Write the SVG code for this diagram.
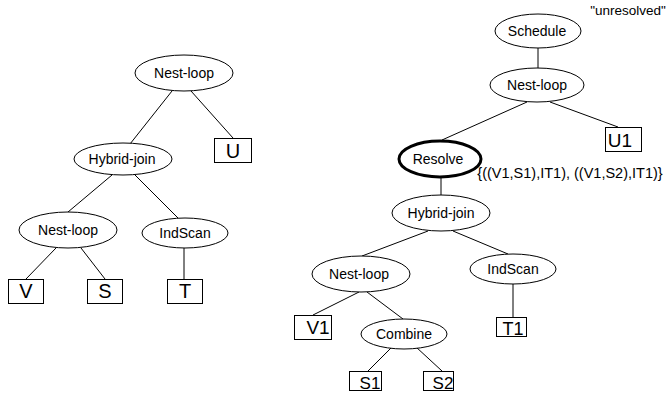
<svg xmlns="http://www.w3.org/2000/svg" width="667" height="397" viewBox="0 0 667 397">
<style>
.op{fill:#fff;stroke:#000;stroke-width:1}
.leaf{fill:#fff;stroke:#000;stroke-width:1}
.t{font-family:"Liberation Sans",Arial,sans-serif;font-size:14px;text-anchor:middle;fill:#000}
.lt{font-family:"Liberation Sans",Arial,sans-serif;font-size:20px;text-anchor:middle;fill:#000}
.rt{font-family:"Liberation Sans",Arial,sans-serif;font-size:19px;text-anchor:middle;fill:#000}
.c line{stroke:#000;stroke-width:1}
</style>
<rect width="667" height="397" fill="#fff"/>
<g class="c" id="connectors">
<line x1="172" y1="91" x2="130" y2="144"/>
<line x1="191" y1="91" x2="233" y2="138"/>
<line x1="112" y1="175" x2="68" y2="212"/>
<line x1="135" y1="175" x2="178" y2="218"/>
<line x1="56" y1="248" x2="26" y2="279"/>
<line x1="81" y1="248" x2="105" y2="279"/>
<line x1="184" y1="248" x2="184" y2="279"/>
<line x1="538" y1="48" x2="538" y2="68"/>
<line x1="527" y1="102" x2="442" y2="140"/>
<line x1="550" y1="102" x2="618" y2="127"/>
<line x1="441" y1="178" x2="441" y2="195"/>
<line x1="428" y1="231" x2="362" y2="256"/>
<line x1="453" y1="231" x2="508" y2="254"/>
<line x1="359" y1="292" x2="313" y2="315"/>
<line x1="367" y1="292" x2="403" y2="319"/>
<line x1="513" y1="283" x2="513" y2="317"/>
<line x1="392" y1="347" x2="368" y2="371"/>
<line x1="416" y1="347" x2="442" y2="371"/>
</g>
<g id="L_nestloop1"><ellipse class="op" cx="184" cy="73" rx="49" ry="18"/><text class="t" x="184" y="78">Nest-loop</text></g>
<g id="L_U"><rect class="leaf" x="214.5" y="138.5" width="37" height="24"/><text class="lt" x="233" y="158">U</text></g>
<g id="L_hybrid"><ellipse class="op" cx="123" cy="159" rx="49" ry="16"/><text class="t" x="122" y="164">Hybrid-join</text></g>
<g id="L_nestloop2"><ellipse class="op" cx="68" cy="230" rx="49" ry="18"/><text class="t" x="68" y="235">Nest-loop</text></g>
<g id="L_indscan"><ellipse class="op" cx="185" cy="233" rx="43" ry="15"/><text class="t" x="185" y="238">IndScan</text></g>
<g id="L_V"><rect class="leaf" x="8.5" y="279.5" width="35" height="24"/><text class="lt" x="26" y="298">V</text></g>
<g id="L_S"><rect class="leaf" x="87.5" y="279.5" width="35" height="24"/><text class="lt" x="105" y="298">S</text></g>
<g id="L_T"><rect class="leaf" x="167.5" y="279.5" width="35" height="24"/><text class="lt" x="185" y="298">T</text></g>
<g id="unresolved_label"><text class="t" x="628" y="15" style="font-size:13.5px">"unresolved"</text></g>
<g id="R_schedule"><ellipse class="op" cx="538" cy="31" rx="43" ry="17"/><text class="t" x="537" y="36">Schedule</text></g>
<g id="R_nestloop1"><ellipse class="op" cx="537" cy="85" rx="47" ry="17"/><text class="t" x="537" y="90">Nest-loop</text></g>
<g id="R_U1"><rect class="leaf" x="605.5" y="127.5" width="36" height="24"/><text class="rt" x="620" y="147">U1</text></g>
<g id="R_resolve"><ellipse class="op" cx="440" cy="159" rx="41" ry="18" style="stroke-width:3"/><text class="t" x="438" y="164">Resolve</text></g>
<g id="resolve_label"><text class="t" x="570" y="178" style="font-size:14.5px">{((V1,S1),IT1), ((V1,S2),IT1)}</text></g>
<g id="R_hybrid"><ellipse class="op" cx="441" cy="213" rx="49" ry="18"/><text class="t" x="441" y="218">Hybrid-join</text></g>
<g id="R_nestloop2"><ellipse class="op" cx="361" cy="274" rx="49" ry="18"/><text class="t" x="359" y="279">Nest-loop</text></g>
<g id="R_indscan"><ellipse class="op" cx="513" cy="269" rx="43" ry="15"/><text class="t" x="513" y="274">IndScan</text></g>
<g id="R_V1"><rect class="leaf" x="294.5" y="315.5" width="37" height="24"/><text class="rt" x="318" y="334">V1</text></g>
<g id="R_combine"><ellipse class="op" cx="404" cy="334" rx="43" ry="15"/><text class="t" x="404" y="339">Combine</text></g>
<g id="R_T1"><rect class="leaf" x="496.5" y="317.5" width="30" height="19"/><text class="rt" x="513" y="335" style="font-size:18px">T1</text></g>
<g id="R_S1"><rect class="leaf" x="349.5" y="371.5" width="32" height="19"/><text class="rt" x="370" y="389" style="font-size:17px">S1</text></g>
<g id="R_S2"><rect class="leaf" x="423.5" y="371.5" width="30" height="19"/><text class="rt" x="443" y="389" style="font-size:17px">S2</text></g>
</svg>
